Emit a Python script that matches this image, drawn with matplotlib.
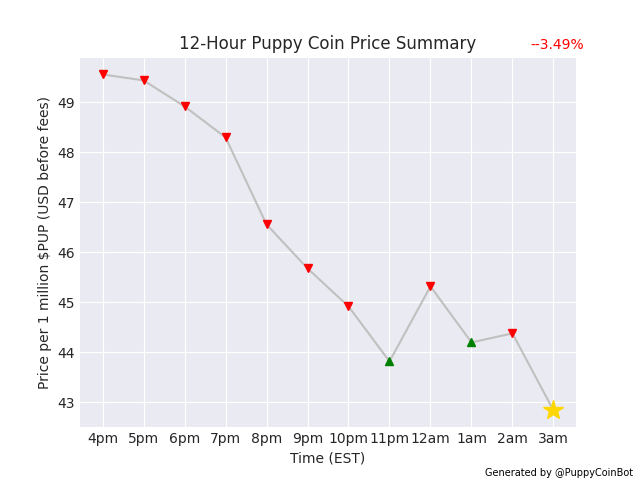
import matplotlib
matplotlib.use("Agg")
import matplotlib.pyplot as plt

plt.style.use("seaborn-v0_8-darkgrid")
plt.rcParams['font.family'] = ['DejaVu Sans']

hours = ["4pm", "5pm", "6pm", "7pm", "8pm", "9pm", "10pm", "11pm", "12am", "1am", "2am", "3am"]
prices = [49.56, 49.44, 48.92, 48.30, 46.56, 45.68, 44.92, 43.82, 45.32, 44.20, 44.38, 42.84]
change_label = "--3.49%"

fig, ax = plt.subplots(figsize=(6.4, 4.8), dpi=100)
x = list(range(len(hours)))
ax.plot(x, prices, color="silver", linewidth=1.5, zorder=2)

for i, p in enumerate(prices):
    if i == len(prices) - 1:
        ax.plot(i, p, marker="*", color="gold", markersize=15, zorder=3)
    elif prices[i + 1] < p:
        ax.plot(i, p, marker="v", color="red", markersize=6, zorder=3)
    else:
        ax.plot(i, p, marker="^", color="green", markersize=6, zorder=3)

ax.set_xticks(x)
ax.set_xticklabels(hours)
ax.set_title("12-Hour Puppy Coin Price Summary")
ax.set_xlabel("Time (EST)")
ax.set_ylabel("Price per 1 million $PUP (USD before fees)")
ax.text(1.016, 1.015, change_label, color="red", fontsize=10, transform=ax.transAxes,
        ha="right", va="bottom")
fig.text(0.99, 0.005, "Generated by @PuppyCoinBot", fontsize=7, ha="right", va="bottom", color="black")

fig.savefig("out.png", dpi=100)
